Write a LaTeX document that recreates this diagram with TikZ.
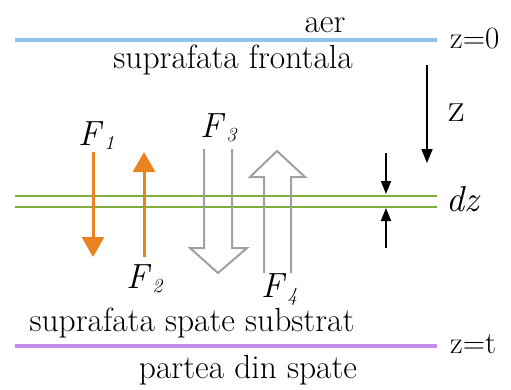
\documentclass[tikz,border=0pt]{standalone}
\usepackage{graphicx}
\usetikzlibrary{arrows.meta}
\definecolor{airblue}{HTML}{8CC4EE}
\definecolor{layergreen}{HTML}{7DAF3C}
\definecolor{backpurple}{HTML}{C58BEA}
\definecolor{forceorange}{HTML}{E8831F}
\definecolor{hollowgray}{HTML}{A0A0A0}
\newcommand\forcelab[1]{\textit{F}\kern1pt\raisebox{-4.5pt}{\fontsize{20}{20}\selectfont\textit{#1}}}
\begin{document}
\begin{tikzpicture}[x=1pt,y=-1pt,
  bigtext/.style={inner sep=0pt,font=\fontsize{33.5}{36}\selectfont},
  sidetext/.style={inner sep=0pt,anchor=base west,font=\fontsize{31}{34}\selectfont},
  ztext/.style={inner sep=0pt,anchor=base west,font=\fontsize{41}{44}\selectfont},
  flab/.style={inner sep=0pt,anchor=base west,font=\fontsize{35}{38}\selectfont},
  boundary/.style={line width=4.5pt},
  layer/.style={layergreen,line width=2.6pt},
  orangearrow/.style={forceorange,line width=3pt,-{Triangle[width=22pt,length=20pt]}},
  blackarrow/.style={black,line width=1.8pt,-{Triangle[width=11pt,length=14pt]}},
  hollow/.style={hollowgray,line width=2pt,line join=miter}]
\useasboundingbox (0,0) rectangle (511,389);
\fill[white] (0,0) rectangle (511,389);

% boundaries
\coordinate (bl) at (15,40);  \coordinate (br) at (437,40);
\draw[boundary,airblue] (bl) -- (br);
\coordinate (gl1) at (15,196); \coordinate (gr1) at (437,196);
\coordinate (gl2) at (15,207); \coordinate (gr2) at (437,207);
\draw[layer] (gl1) -- (gr1);
\draw[layer] (gl2) -- (gr2);
\coordinate (pl) at (15,346); \coordinate (pr) at (437,346);
\draw[boundary,backpurple] (pl) -- (pr);

% texts
\node[bigtext,anchor=base] (aer) at (325,32) {aer};
\node[bigtext,anchor=base] (front) at (233,68) {suprafata frontala};
\node[sidetext] (z0) at (450,48) {z=0};
\node[bigtext,anchor=base] (subs) at (192,331) {suprafata spate substrat};
\node[sidetext] (zt) at (450,353) {z=t};
\node[bigtext,anchor=base] (back) at (248,378) {partea din spate};
\node[ztext] (zlab) at (448,121) {z};
\node[ztext,font=\fontsize{36}{40}\selectfont] (dz) at (446,211) {\textit{dz}};

% z direction arrow
\coordinate (za) at (427,65); \coordinate (zb) at (427,163);
\draw[blackarrow] (za) -- (zb);
% dz arrows
\coordinate (d1a) at (386,153); \coordinate (d1b) at (386,194);
\coordinate (d2a) at (386,248); \coordinate (d2b) at (386,208);
\draw[blackarrow,-{Triangle[width=10pt,length=13pt]}] (d1a) -- (d1b);
\draw[blackarrow,-{Triangle[width=10pt,length=13pt]}] (d2a) -- (d2b);

% orange arrows
\coordinate (f1a) at (93,152); \coordinate (f1b) at (93,257);
\draw[orangearrow] (f1a) -- (f1b);
\coordinate (f2a) at (144,257); \coordinate (f2b) at (144,152);
\draw[orangearrow] (f2a) -- (f2b);

% hollow arrows
\draw[hollow] (204,149) -- (204,248) -- (190,248) -- (218,273) -- (247,248) -- (232,248) -- (232,149);
\draw[hollow] (264,273) -- (264,177) -- (250,177) -- (277,151) -- (305,177) -- (291,177) -- (291,273);

% force labels
\node[flab] (F1) at (78,145) {\forcelab{1}};
\node[flab] (F2) at (126,288) {\forcelab{2}};
\node[flab] (F3) at (200,137) {\forcelab{3}};
\node[flab] (F4) at (261,297) {\forcelab{4}};
\end{tikzpicture}
\end{document}
